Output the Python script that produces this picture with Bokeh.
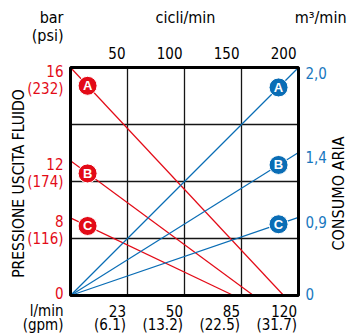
import math
from bokeh.plotting import figure
from bokeh.models import Range1d, ColumnDataSource, LabelSet, Label
from bokeh.core.properties import value
from bokeh.embed import file_html
from bokeh.resources import INLINE

# ---------------- data ----------------
series = ["A", "B", "C"]
cycles_ticks = [50, 100, 150, 200]
cycles_labels = ["50", "100", "150", "200"]
flow_lpm = ["23", "50", "85", "120"]
flow_gpm = ["(6.1)", "(13.2)", "(22.5)", "(31.7)"]
pressure_grid = [4, 8, 12]

# red: fluid outlet pressure lines (start on left scale, end on flow/cycles scale)
pressure_bar = ["16", "12", "8"]
pressure_psi = ["(232)", "(174)", "(116)"]
pressure_start = [16.0, 9.45, 5.45]      # position on left scale
pressure_end_cycles = [187.0, 160.5, 143.0]

# blue: air consumption lines (from origin to right scale at 200 cycles)
air_labels = ["2,0", "1,4", "0,9"]
air_end = [2.0, 1.255, 0.685]            # position on right scale
air_end_cycles = [200, 200, 200]

red_marker_cycles = [15, 15, 15]
blue_marker_cycles = [182.5, 182.5, 182.5]

RED = "#e30b17"
BLUE = "#0a6db5"
BLUE_TXT = "#1877be"
FONT = "'DejaVu Sans Condensed', Roboto, sans-serif"

# ---------------- layout ----------------
W, H = 350, 335
XMAX, YMAX, AMAX = 200.0, 16.0, 2.0
BOX_L, BOX_T, BOX_W, BOX_H = 70, 67, 228, 228

def X(px):
    return (px - BOX_L) * XMAX / BOX_W

def Y(py):
    return (BOX_T + BOX_H - py) * YMAX / BOX_H

PX_Y = YMAX / BOX_H
PX_A = AMAX / BOX_H
PX_X = XMAX / BOX_W

p = figure(frame_width=W, frame_height=H,
           x_range=Range1d(X(0), X(W)), y_range=Range1d(Y(H), Y(0)),
           x_axis_location=None, y_axis_location=None,
           min_border=0, output_backend="svg", toolbar_location=None)
p.extra_y_ranges = {"air": Range1d(Y(H) * AMAX / YMAX, Y(0) * AMAX / YMAX)}
p.background_fill_color = "white"
p.border_fill_color = "white"
p.outline_line_color = None
p.grid.visible = False

# grid lines
p.segment(x0=cycles_ticks[:-1], y0=[0] * 3, x1=cycles_ticks[:-1], y1=[YMAX] * 3,
          line_color="#151515", line_width=1.3)
p.segment(x0=[0] * 3, y0=pressure_grid, x1=[XMAX] * 3, y1=pressure_grid,
          line_color="#151515", line_width=1.3)

# red lines
p.segment(x0=[0] * 3, y0=pressure_start, x1=pressure_end_cycles, y1=[0] * 3,
          line_color=RED, line_width=1.2)
# blue lines
p.segment(x0=[0] * 3, y0=[0] * 3, x1=air_end_cycles, y1=air_end,
          line_color=BLUE, line_width=1.2, y_range_name="air")

# chart box
p.quad(left=[0], right=[XMAX], bottom=[0], top=[YMAX], fill_color=None,
       line_color="black", line_width=3)

# markers on lines
red_my = [s * (1 - mx / e) for s, mx, e in zip(pressure_start, red_marker_cycles, pressure_end_cycles)]
blue_my = [a * mx / c for a, mx, c in zip(air_end, blue_marker_cycles, air_end_cycles)]
red_src = ColumnDataSource(dict(x=red_marker_cycles, y=red_my, t=series))
blue_src = ColumnDataSource(dict(x=blue_marker_cycles, y=blue_my, t=series))
p.scatter("x", "y", source=red_src, size=19, fill_color=RED, line_color="white", line_width=1)
p.scatter("x", "y", source=blue_src, size=19, fill_color=BLUE, line_color="white", line_width=1,
          y_range_name="air")
for src, rn in ((red_src, "default"), (blue_src, "air")):
    p.text("x", "y", text="t", source=src, text_color="white", text_font=value("Liberation Sans"),
           text_font_style="bold", text_font_size="13px", text_align="center",
           text_baseline="middle", y_range_name=rn)

def lab(text, px, py, align="center", color="black", size="16px", angle=0.0):
    p.add_layout(Label(x=X(px), y=Y(py), text=text, text_align=align, text_baseline="middle",
                       text_color=color, text_font=FONT, text_font_size=size, angle=angle))

def labset(xs, ys, texts, align, color, size="15px", y_range_name="default"):
    src = ColumnDataSource(dict(x=xs, y=ys, t=texts))
    p.add_layout(LabelSet(x="x", y="y", text="t", source=src, text_align=align,
                          text_baseline="middle", text_color=color, text_font=value(FONT),
                          text_font_size=size, y_range_name=y_range_name))

# top axis (cycles/min)
labset([c - 2 * PX_X for c in cycles_ticks], [Y(52)] * 4, cycles_labels, "right", "black")
# bottom axis (flow)
labset([c - 1.5 * PX_X for c in cycles_ticks], [Y(310)] * 4, flow_lpm, "right", "black")
labset([c - 1.5 * PX_X for c in cycles_ticks], [Y(324)] * 4, flow_gpm, "right", "black")
# left axis (pressure)
labset([X(63)] * 3, [s - 3 * PX_Y for s in pressure_start], pressure_bar, "right", RED)
labset([X(63)] * 3, [s - 21 * PX_Y for s in pressure_start], pressure_psi, "right", RED)
lab("0", 63, 292, align="right", color=RED, size="15px")
# right axis (air)
labset([X(305)] * 3, [a - 5 * PX_A for a in air_end], air_labels, "left", BLUE_TXT,
       y_range_name="air")
lab("0", 305, 293, align="left", color=BLUE_TXT, size="15px")

# titles
lab("bar", 63, 17, align="right")
lab("(psi)", 63, 35, align="right")
lab("cicli/min", 185, 17)
lab("m³/min", 346, 17, align="right")
lab("l/min", 63, 310, align="right", size="15px")
lab("(gpm)", 63, 324, align="right", size="15px")
lab("PRESSIONE USCITA FLUIDO", 18, 183, size="15.5px", angle=math.pi / 2)
lab("CONSUMO ARIA", 338, 193, size="16px", angle=math.pi / 2)

open("out.html", "w").write(file_html(p, INLINE))
